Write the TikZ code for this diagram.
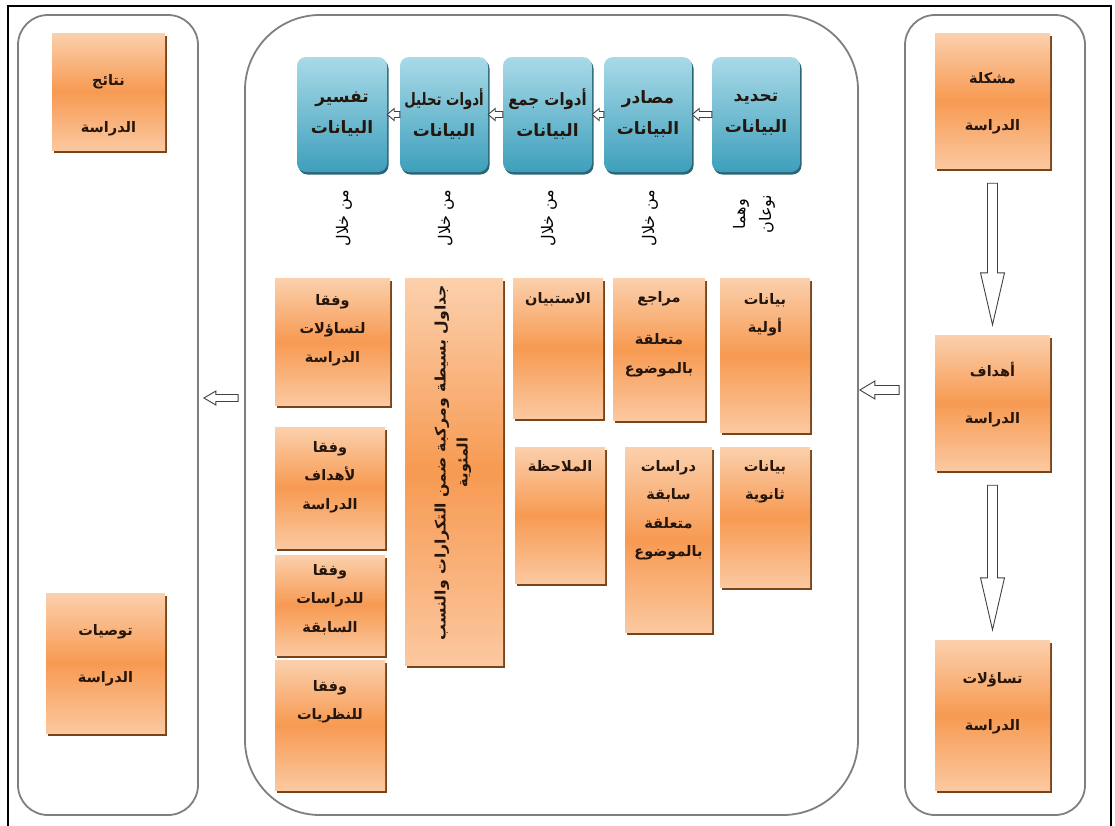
\documentclass[tikz,border=0pt]{standalone}
\usepackage{fontspec}
\usepackage{graphicx}
\usetikzlibrary{calc,shadows}
\TeXXeTstate=1
\newfontfamily\arabicfont[Script=Arabic]{DejaVu Sans}
\newcommand\ar[1]{{\arabicfont\beginR #1\endR}}
\definecolor{oTop}{HTML}{FBD0AD}
\definecolor{oMid}{HTML}{F79A52}
\definecolor{oBot}{HTML}{FBC8A0}
\definecolor{oShadow}{HTML}{7A4318}
\definecolor{bTop}{HTML}{A9DAE8}
\definecolor{bBot}{HTML}{3E9FBB}
\definecolor{bShadow}{HTML}{2B6677}
\definecolor{panelc}{HTML}{7F7F7F}
\definecolor{txtc}{HTML}{24160C}
\begin{document}
\begin{tikzpicture}[x=1pt,y=-1pt,
  panelbox/.style={draw=panelc, line width=1.8pt, inner sep=0pt},
  obox/.style={top color=oTop, bottom color=oBot, middle color=oMid, inner sep=0pt,
    drop shadow={shadow xshift=1.5pt,shadow yshift=-2.5pt,fill=oShadow,opacity=1}},
  bbox/.style={rounded corners=9pt, top color=bTop, bottom color=bBot, inner sep=1pt,
    align=center, font=\bfseries\fontsize{17}{31}\selectfont, text=txtc,
    drop shadow={shadow xshift=1.5pt,shadow yshift=-2.5pt,fill=bShadow,opacity=1}},
  sz/.style 2 args={minimum width=#1pt, minimum height=#2pt},
  otxt/.style={align=center, inner sep=0pt, font=\bfseries\fontsize{14.5}{28.5}\selectfont, text=txtc},
  ptxt/.style={align=center, inner sep=0pt, font=\bfseries\fontsize{14.5}{47}\selectfont, text=txtc},
  vlab/.style={rotate=90, align=center, inner sep=0pt, font=\fontsize{16}{26}\selectfont},
  hol/.style={draw=black!75, fill=white, line width=0.9pt},
  hl/.style n args={3}{hol, to path={let \p1=(\tikztostart), \p2=(\tikztotarget) in
     (\x1,\y1+#3) -- (\x2+#1,\y1+#3) -- (\x2+#1,\y1+#2) -- (\x2,\y1) -- (\x2+#1,\y1-#2)
     -- (\x2+#1,\y1-#3) -- (\x1,\y1-#3) -- cycle}},
  hd/.style={hol, to path={let \p1=(\tikztostart), \p2=(\tikztotarget) in
     (\x1-5pt,\y1) -- (\x1+5pt,\y1) -- (\x1+5pt,\y2+52pt) -- (\x1+12pt,\y2+52pt) -- (\x1,\y2)
     -- (\x1-12pt,\y2+52pt) -- (\x1-5pt,\y2+52pt) -- cycle}}
]
\useasboundingbox (0,0) rectangle (1115,825);
\draw[line width=1.2pt] (8,840) -- (8,6) -- (1111,6) -- (1111,840);

% panels
\node[panelbox, rounded corners=30pt, sz={180}{800}] (leftp) at (108,415) {};
\node[panelbox, rounded corners=75pt, sz={613}{800}] (midp) at (551.5,415) {};
\node[panelbox, rounded corners=30pt, sz={180}{800}] (rightp) at (995,415) {};

% right panel
\node[obox, sz={115}{135}] (prob) at (992.5,100.5) {};
\node[ptxt] (probt) at ($(prob)+(0,-3pt)$) {\ar{مشكلة}\\\ar{الدراسة}};
\node[obox, sz={115}{135}] (obj) at (992.5,402.5) {};
\node[ptxt] (objt) at ($(obj)+(0,8pt)$) {\ar{أهداف}\\\ar{الدراسة}};
\node[obox, sz={115}{150}] (ques) at (992.5,715) {};
\node[ptxt] (quest) at ($(ques)+(0,12pt)$) {\ar{تساؤلات}\\\ar{الدراسة}};
\coordinate (a1s) at ($(prob.south)+(0,-15pt)$);
\coordinate (a1e) at ($(obj.north)+(0,10pt)$);
\draw[hd] (a1s) to (a1e);
\coordinate (a2s) at ($(obj.south)+(0,-15pt)$);
\coordinate (a2e) at ($(ques.north)+(0,10pt)$);
\draw[hd] (a2s) to (a2e);

% left panel
\node[obox, sz={113}{117}] (res) at (108.5,91.5) {};
\node[ptxt] (rest) at ($(res)+(0,-14pt)$) {\ar{نتائج}\\\ar{الدراسة}};
\node[obox, sz={119}{140}] (rec) at (105.5,663) {};
\node[ptxt] (rect) at ($(rec)+(0,8pt)$) {\ar{توصيات}\\\ar{الدراسة}};

% blue boxes
\node[bbox, sz={88}{115}] (b5) at (756,114.5) {\ar{تحديد}\\\ar{البيانات}};
\node[bbox, sz={88}{115}] (b4) at (648,114.5) {\ar{مصادر}\\\ar{البيانات}};
\node[bbox, sz={89}{115}] (b3) at (547.5,114.5) {\scalebox{0.88}[1]{\ar{أدوات جمع}}\\\ar{البيانات}};
\node[bbox, sz={88}{115}] (b2) at (444,114.5) {\scalebox{0.78}[1]{\ar{أدوات تحليل}}\\\ar{البيانات}};
\node[bbox, sz={90}{115}] (b1) at (342,114.5) {\ar{تفسير}\\\ar{البيانات}};
\draw[hl={7pt}{6pt}{3pt}] (b5.west) to (b4.east);
\draw[hl={7pt}{6pt}{3pt}] (b4.west) to (b3.east);
\draw[hl={7pt}{6pt}{3pt}] (b3.west) to (b2.east);
\draw[hl={7pt}{6pt}{3pt}] (b2.west) to (b1.east);

% rotated labels
\node[vlab] (l1) at (344,218) {\ar{من خلال}};
\node[vlab] (l2) at (446,218) {\ar{من خلال}};
\node[vlab] (l3) at (549,218) {\ar{من خلال}};
\node[vlab] (l4) at (650,218) {\ar{من خلال}};
\node[vlab] (l5) at (754,214) {\ar{وهما}\\\ar{نوعان}};

% middle orange boxes
\node[obox, sz={115}{127}] (m1) at (332.5,341.5) {};
\node[otxt, anchor=north] (m1t) at ($(m1.north)+(0,-16pt)$) {\ar{وفقا}\\\ar{لتساؤلات}\\\ar{الدراسة}};
\node[obox, sz={110}{121}] (m2) at (330,487.5) {};
\node[otxt, anchor=north] (m2t) at ($(m2.north)+(0,-14pt)$) {\ar{وفقا}\\\ar{لأهداف}\\\ar{الدراسة}};
\node[obox, sz={110}{100}] (m3) at (330,605) {};
\node[otxt, anchor=north] (m3t) at ($(m3.north)+(0,-9pt)$) {\ar{وفقا}\\\ar{للدراسات}\\\ar{السابقة}};
\node[obox, sz={110}{130}] (m4) at (330,725) {};
\node[otxt, anchor=north] (m4t) at ($(m4.north)+(0,-20pt)$) {\ar{وفقا}\\\ar{للنظريات}};

\node[obox, sz={98}{387}] (m5) at (454,471.5) {};
\node[otxt, rotate=90, anchor=east, font=\bfseries\fontsize{14.5}{22}\selectfont] (m5t) at ($(m5.north)+(-1pt,-7pt)$)
  {\scalebox{1.08}[1]{\ar{جداول بسيطة ومركبة ضمن التكرارات والنسب}}\\\ar{المئوية}};

\node[obox, sz={90}{140}] (m6) at (558,348) {};
\node[otxt, anchor=north] (m6t) at ($(m6.north)+(0,-14pt)$) {\ar{الاستبيان}};
\node[obox, sz={92}{142}] (m7) at (659,349) {};
\node[otxt, anchor=north] (m7t) at ($(m7.north)+(0,-13pt)$) {\ar{مراجع}\\[14pt]\ar{متعلقة}\\\ar{بالموضوع}};
\node[obox, sz={90}{154}] (m8) at (765,355) {};
\node[otxt, anchor=north] (m8t) at ($(m8.north)+(0,-15pt)$) {\ar{بيانات}\\\ar{أولية}};

\node[obox, sz={90}{136}] (m9) at (560,515) {};
\node[otxt, anchor=north] (m9t) at ($(m9.north)+(0,-13pt)$) {\ar{الملاحظة}};
\node[obox, sz={87}{185}] (m10) at (668.5,539.5) {};
\node[otxt, anchor=north] (m10t) at ($(m10.north)+(0,-13pt)$) {\ar{دراسات}\\\ar{سابقة}\\\ar{متعلقة}\\\ar{بالموضوع}};
\node[obox, sz={90}{140}] (m11) at (765,517) {};
\node[otxt, anchor=north] (m11t) at ($(m11.north)+(0,-13pt)$) {\ar{بيانات}\\\ar{ثانوية}};

% panel arrows
\coordinate (yl) at (0,398);
\coordinate (yr) at (0,390);
\coordinate (pl1) at ($(midp.west |- yl)+(-6pt,0)$);
\coordinate (pl2) at ($(leftp.east |- yl)+(5pt,0)$);
\draw[hl={12pt}{7pt}{3.5pt}] (pl1) to (pl2);
\coordinate (pr1) at ($(rightp.west |- yr)+(-5pt,0)$);
\coordinate (pr2) at ($(midp.east |- yr)+(1pt,0)$);
\draw[hl={15pt}{9pt}{4.5pt}] (pr1) to (pr2);
\end{tikzpicture}
\end{document}
